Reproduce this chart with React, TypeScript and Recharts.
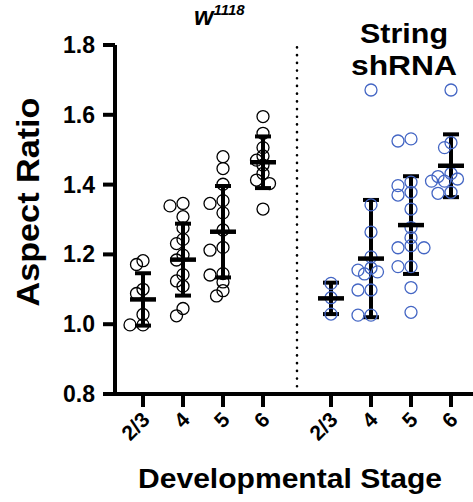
// Aspect ratio by developmental stage, w1118 vs String shRNA.
// Scatter of individual samples with mean ± SD bars on top.
import { ScatterChart, Scatter, XAxis, YAxis, ErrorBar, ReferenceLine } from 'recharts';

const STAGES = ['2/3', '4', '5', '6'];
const WT_POS = [1, 2, 3, 4];
const SH_POS = [5.7, 6.7, 7.7, 8.7];
const DIVIDER_X = 4.85;
const Y_TICKS = [0.8, 1.0, 1.2, 1.4, 1.6, 1.8];

// w1118 samples per stage
const WT_23 = [1.182, 1.171, 1.1, 1.088, 1.028, 0.998, 0.998];
const WT_4 = [1.346, 1.339, 1.308, 1.276, 1.243, 1.231, 1.198, 1.184, 1.142, 1.124, 1.109, 1.045, 1.024];
const WT_5 = [1.48, 1.446, 1.401, 1.354, 1.346, 1.319, 1.27, 1.22, 1.212, 1.145, 1.141, 1.121, 1.096, 1.081];
const WT_6 = [1.595, 1.547, 1.506, 1.482, 1.47, 1.456, 1.432, 1.413, 1.403, 1.33];

// String shRNA samples per stage
const SH_23 = [1.117, 1.076, 1.029];
const SH_4 = [1.671, 1.342, 1.264, 1.193, 1.161, 1.155, 1.15, 1.144, 1.098, 1.098, 1.026, 1.026];
const SH_5 = [1.531, 1.525, 1.407, 1.397, 1.378, 1.37, 1.33, 1.277, 1.248, 1.225, 1.219, 1.219, 1.165, 1.165, 1.105, 1.034];
const SH_6 = [1.671, 1.52, 1.506, 1.432, 1.423, 1.416, 1.41, 1.41, 1.378, 1.375];

const WT_MEAN = [1.071, 1.185, 1.265, 1.464];
const WT_SD = [0.075, 0.103, 0.131, 0.074];
const SH_MEAN = [1.074, 1.188, 1.284, 1.454];
const SH_SD = [0.045, 0.168, 0.14, 0.09];

const WIDTH = 473;
const HEIGHT = 502;
const FONT = 'Liberation Sans, Arial, Helvetica, sans-serif';
const BLUE = '#4466c4';

// plot box: x 0.3..9.25 over 358px, y 0.8..1.8 over 349px
const PX_PER_X = 358 / (9.25 - 0.3);
const PX_PER_Y = 349;

// simple beeswarm so overlapping points get nudged sideways
function swarm(values: number[], center: number) {
  const placed: { dx: number; py: number }[] = [];
  return values.map((v) => {
    const py = v * PX_PER_Y;
    let off = 0;
    for (let k = 0; k < 20; k++) {
      const cand = k === 0 ? 0 : (k % 2 ? -1 : 1) * Math.ceil(k / 2) * 6.5;
      if (placed.every((p) => Math.hypot(p.dx - cand, p.py - py) >= 7.5)) {
        off = cand;
        break;
      }
    }
    placed.push({ dx: off, py });
    return { x: center + off / PX_PER_X, y: v };
  });
}

const wtPoints = [WT_23, WT_4, WT_5, WT_6].flatMap((vals, i) => swarm(vals, WT_POS[i]));
const shPoints = [SH_23, SH_4, SH_5, SH_6].flatMap((vals, i) => swarm(vals, SH_POS[i]));
const meanData = [
  ...WT_MEAN.map((m, i) => ({ x: WT_POS[i], y: m, sd: WT_SD[i] })),
  ...SH_MEAN.map((m, i) => ({ x: SH_POS[i], y: m, sd: SH_SD[i] })),
];

const ALL_POS = [...WT_POS, ...SH_POS];
const ALL_LABELS = [...STAGES, ...STAGES];

const OpenCircle = (color: string) => (p: any) => (
  <circle cx={p.cx} cy={p.cy} r={6} fill="none" stroke={color} strokeWidth={1.3} />
);

const MeanBar = (p: any) => (
  <line x1={p.cx - 13} x2={p.cx + 13} y1={p.cy} y2={p.cy} stroke="#000" strokeWidth={4.5} />
);

const XTick = ({ x, y, payload }: any) => {
  const idx = ALL_POS.findIndex((v) => Math.abs(v - payload.value) < 0.01);
  const tx = x + 8;
  const ty = y + 12;
  return (
    <text
      x={tx}
      y={ty}
      transform={`rotate(-45, ${tx}, ${ty})`}
      textAnchor="end"
      fontFamily={FONT}
      fontWeight={700}
      fontSize={21}
      fill="#000"
    >
      {ALL_LABELS[idx] ?? ''}
    </text>
  );
};

const YTick = ({ x, y, payload }: any) => (
  <text x={x} y={y} dy={8} textAnchor="end" fontFamily={FONT} fontWeight={700} fontSize={23} fill="#000">
    {Number(payload.value).toFixed(1)}
  </text>
);

export default function App() {
  return (
    <div style={{ position: 'absolute', left: 0, top: 0, width: WIDTH, height: HEIGHT, background: '#fff' }}>
      <ScatterChart width={WIDTH} height={HEIGHT} margin={{ top: 45, right: 0, bottom: 0, left: 15 }}>
        <XAxis
          type="number"
          dataKey="x"
          domain={[0.3, 9.25]}
          ticks={ALL_POS}
          interval={0}
          allowDataOverflow
          height={108}
          tick={<XTick />}
          tickSize={13}
          tickLine={{ stroke: '#000', strokeWidth: 4 }}
          axisLine={{ stroke: '#000', strokeWidth: 4 }}
        />
        <YAxis
          type="number"
          dataKey="y"
          domain={[0.8, 1.8]}
          ticks={Y_TICKS}
          interval={0}
          allowDataOverflow
          width={100}
          tick={<YTick />}
          tickSize={12}
          tickMargin={8}
          tickLine={{ stroke: '#000', strokeWidth: 4 }}
          axisLine={{ stroke: '#000', strokeWidth: 4 }}
        />
        <ReferenceLine
          x={DIVIDER_X}
          stroke="#000"
          strokeWidth={2.6}
          strokeDasharray="0.1 7.6"
          strokeLinecap="round"
        />
        <Scatter data={wtPoints} shape={OpenCircle('#000')} isAnimationActive={false} />
        <Scatter data={shPoints} shape={OpenCircle(BLUE)} isAnimationActive={false} />
        <Scatter data={meanData} shape={MeanBar} isAnimationActive={false}>
          <ErrorBar dataKey="sd" direction="y" width={8} strokeWidth={4} stroke="#000" isAnimationActive={false} />
        </Scatter>
      </ScatterChart>

      <svg
        width={WIDTH}
        height={HEIGHT}
        style={{ position: 'absolute', left: 0, top: 0, pointerEvents: 'none' }}
        fontFamily={FONT}
        fontWeight={700}
      >
        <text x={194} y={25} fontSize={25} fontStyle="italic">
          w<tspan fontSize={15} dy={-10}>1118</tspan>
        </text>
        <text x={404} y={43} fontSize={28} textAnchor="middle" textLength={88} lengthAdjust="spacingAndGlyphs">
          String
        </text>
        <text x={404} y={75} fontSize={28} textAnchor="middle" textLength={106} lengthAdjust="spacingAndGlyphs">
          shRNA
        </text>
        <text
          x={39}
          y={202}
          fontSize={32}
          textAnchor="middle"
          textLength={209}
          lengthAdjust="spacingAndGlyphs"
          transform="rotate(-90, 39, 202)"
        >
          Aspect Ratio
        </text>
        <text x={290} y={488} fontSize={27} textAnchor="middle" textLength={304} lengthAdjust="spacingAndGlyphs">
          Developmental Stage
        </text>
      </svg>
    </div>
  );
}
